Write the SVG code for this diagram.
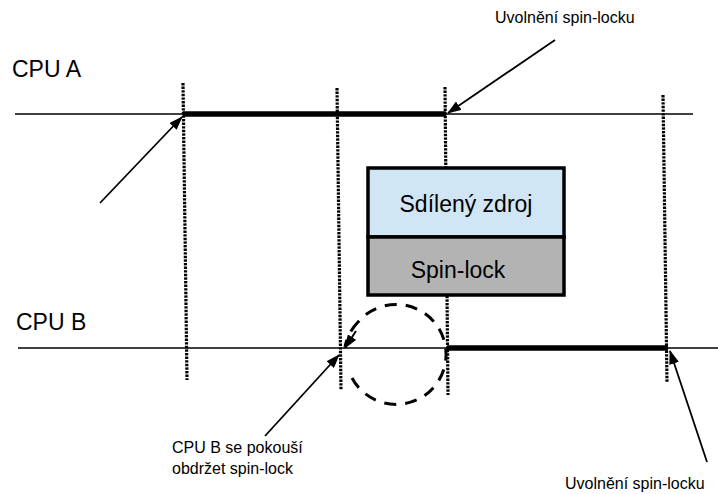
<svg xmlns="http://www.w3.org/2000/svg" width="718" height="494" viewBox="0 0 718 494">
<style>
.t{font-family:"Liberation Sans",Arial,sans-serif;fill:#000}
.big{font-size:23px}
.sm{font-size:16px}
.axis{stroke:#000;stroke-width:1.6;fill:none}
.hold{stroke:#000;stroke-width:5.5;fill:none}
.dot{stroke:#000;stroke-width:3.2;stroke-dasharray:2.4 1.2;fill:none}
.arr{stroke:#000;stroke-width:1.8;fill:none;marker-end:url(#ah)}
.box{stroke:#000;stroke-width:3.5}
</style>
<defs>
<marker id="ah" markerWidth="14" markerHeight="10" refX="13" refY="5" orient="auto" markerUnits="userSpaceOnUse">
<path d="M0,0 L14,5 L0,10 Z" fill="#000"/>
</marker>
</defs>
<rect width="718" height="494" fill="#fff"/>
<g id="timeline-a">
<line class="axis" x1="15" y1="114" x2="693" y2="114"/>
<line class="hold" x1="183" y1="114" x2="446" y2="114"/>
<text class="t big" x="12" y="77">CPU A</text>
</g>
<g id="timeline-b">
<line class="axis" x1="18" y1="348" x2="718" y2="348"/>
<line class="hold" x1="447" y1="348" x2="668" y2="348"/>
<text class="t big" x="16" y="330">CPU B</text>
</g>
<g id="markers">
<line class="dot" x1="183" y1="83" x2="187" y2="380"/>
<line class="dot" x1="337" y1="88" x2="341" y2="390"/>
<line class="dot" x1="445" y1="87" x2="448" y2="395"/>
<line class="dot" x1="663" y1="95" x2="667" y2="383"/>
</g>
<g id="shared-resource">
<rect class="box" x="368" y="168" width="196" height="69" fill="#d0e6f4"/>
<rect class="box" x="368" y="237" width="196" height="58" fill="#b3b3b3"/>
<text class="t big" x="466" y="212" text-anchor="middle">Sdílený zdroj</text>
<text class="t big" x="458" y="278" text-anchor="middle">Spin-lock</text>
</g>
<g id="connectors">
<line class="arr" x1="100" y1="203" x2="182" y2="117"/>
<line class="arr" x1="555" y1="40" x2="448" y2="113"/>
<line class="arr" x1="265" y1="436" x2="339" y2="355"/>
<line class="arr" x1="707" y1="462" x2="670" y2="351"/>
<path d="M352,378 A50,50 0 1,0 358,322 M358,322 A50,50 0 0,0 345,347" fill="none" stroke="#000" stroke-width="3" stroke-dasharray="12 9"/>
<path d="M356,331 L345,348" stroke="#000" stroke-width="2" marker-end="url(#ah)" fill="none"/>
</g>
<g id="labels">
<text class="t sm" x="495" y="23">Uvolnění spin-locku</text>
<text class="t sm" x="172" y="453">CPU B se pokouší</text>
<text class="t sm" x="172" y="474">obdržet spin-lock</text>
<text class="t sm" x="565" y="489">Uvolnění spin-locku</text>
</g>
</svg>
